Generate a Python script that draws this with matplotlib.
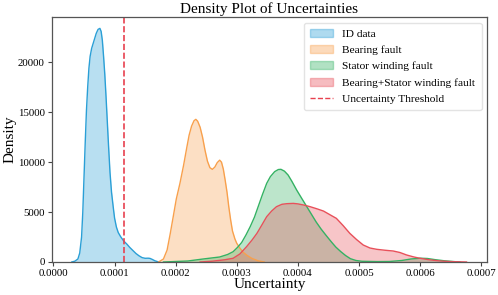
import matplotlib
matplotlib.use("Agg")
import matplotlib.pyplot as plt
from matplotlib.patches import Patch
from matplotlib.lines import Line2D

plt.rcParams['font.family'] = ['Liberation Serif', 'DejaVu Serif']

# curves: x in units of 1e-5, y = density
id_x = [3.0, 3.5, 4.0, 4.3, 4.6, 4.8, 5.0, 5.2, 5.4, 5.6, 5.8, 6.0, 6.25, 6.5, 6.75,
        7.0, 7.3, 7.6, 7.8, 8.0, 8.2, 8.4, 8.6, 8.8, 9.0, 9.25, 9.5, 9.8, 10.0, 10.3,
        10.6, 11.0, 11.5, 12.0, 12.5, 13.0, 13.5, 14.0, 14.5, 15.0, 15.5, 15.8, 16.2,
        16.6, 17.0, 17.4]
id_y = [0, 80, 300, 900, 2500, 5000, 8500, 12000, 15200, 17500, 19400, 20600, 21400,
        21900, 22400, 22900, 23300, 23400, 23100, 22200, 20600, 18800, 16600, 14200,
        11800, 9000, 7000, 5400, 4400, 3500, 2950, 2530, 2100, 1800, 1450, 1150, 850,
        620, 440, 370, 380, 360, 250, 120, 40, 0]

bf_x = [17.2, 18.0, 18.6, 19.1, 19.6, 20.1, 20.7, 21.3, 21.8, 22.2, 22.6, 23.0, 23.3,
        23.6, 24.0, 24.4, 24.8, 25.2, 25.6, 26.0, 26.4, 26.8, 27.2, 27.5, 27.8, 28.1,
        28.4, 28.7, 29.0, 29.3, 29.7, 30.0, 30.5, 31.0, 31.7, 32.5, 33.5, 34.5]
bf_y = [0, 300, 1200, 2800, 4540, 6300, 7880, 9700, 11400, 12700, 13600, 14150, 14290,
        14100, 13500, 12500, 11200, 10100, 9450, 9280, 9500, 9950, 10200, 10000, 9300,
        8200, 7000, 5500, 4200, 3100, 2300, 1870, 1400, 1000, 650, 350, 120, 0]

sw_x = [18.0, 22.0, 24.5, 27.2, 28.5, 29.4, 30.1, 30.8, 31.5, 32.2, 32.9, 33.5, 34.2,
        34.9, 35.5, 36.2, 36.8, 37.23, 37.8, 38.4, 39.0, 39.8, 40.6, 41.4, 42.2, 43.0,
        43.8, 44.7, 45.5, 46.2, 47.0, 47.8, 48.6, 49.5, 50.5, 53.0, 55.0, 57.0, 58.5,
        60.0, 61.2, 62.5, 64.0, 65.5, 66.5]
sw_y = [0, 100, 300, 500, 750, 1030, 1450, 1950, 2700, 3540, 4500, 5540, 6750, 7880,
        8550, 9050, 9260, 9280, 9100, 8710, 8100, 7210, 6400, 5600, 4800, 4000, 3300,
        2600, 2000, 1500, 1050, 650, 330, 150, 70, 40, 50, 150, 300, 380, 350, 230, 120,
        40, 0]

bs_x = [24.0, 26.0, 28.0, 29.4, 30.5, 31.6, 32.5, 33.3, 34.1, 34.9, 35.7, 36.5, 37.4,
        38.2, 39.25, 40.0, 41.0, 42.0, 43.1, 44.2, 45.2, 46.3, 47.4, 48.5, 49.6, 50.7,
        51.8, 52.9, 54.2, 55.6, 56.7, 57.8, 59.0, 60.0, 61.5, 63.3, 65.0, 67.6]
bs_y = [0, 80, 220, 370, 800, 1530, 2200, 2870, 3700, 4540, 5100, 5540, 5780, 5840,
        5870, 5820, 5700, 5540, 5330, 5100, 4750, 4370, 3650, 2870, 2250, 1700, 1400,
        1270, 1180, 1100, 950, 700, 500, 370, 220, 100, 40, 0]

threshold = 11.52

labels = ['ID data', 'Bearing fault', 'Stator winding fault', 'Bearing+Stator winding fault']
colors = ['#2a9fd6', '#f8a04c', '#34b263', '#e8505a']
fill_alpha = 0.33

fig = plt.figure(figsize=(4.98, 2.95), dpi=100)
ax = fig.add_axes([0.1038, 0.1119, 0.8747, 0.8305])

series = [(id_x, id_y), (bf_x, bf_y), (sw_x, sw_y), (bs_x, bs_y)]
for (xs, ys), c in zip(series, colors):
    xs = [v * 1e-5 for v in xs]
    ax.fill_between(xs, ys, 0, color=c, alpha=fill_alpha, linewidth=0)
    ax.plot(xs, ys, color=c, linewidth=1.0)

ax.axvline(threshold * 1e-5, color='#e8414f', linestyle='--', linewidth=1.2)

ax.set_xlim(-0.0000029, 0.000710)
ax.set_ylim(0, 24540)
ax.set_xticks([0.0, 0.0001, 0.0002, 0.0003, 0.0004, 0.0005, 0.0006, 0.0007])
ax.set_xticklabels(['0.0000', '0.0001', '0.0002', '0.0003', '0.0004', '0.0005', '0.0006', '0.0007'])
ax.set_yticks([0, 5000, 10000, 15000, 20000])
ax.tick_params(labelsize=7.8, length=3, width=0.8, color='#444444', pad=2)
for s in ax.spines.values():
    s.set_color('#555555')
    s.set_linewidth(0.9)

ax.set_title('Density Plot of Uncertainties', fontsize=11, pad=3)
ax.set_xlabel('Uncertainty', fontsize=11, labelpad=0)
ax.set_ylabel('Density', fontsize=11, labelpad=1)

handles = [Patch(facecolor=c, alpha=fill_alpha + 0.05, edgecolor=c) for c in colors]
handles.append(Line2D([0], [0], color='#e8414f', linestyle='--', linewidth=1.0))
ax.legend(handles, labels + ['Uncertainty Threshold'], loc='upper right',
          fontsize=8.2, framealpha=0.8, edgecolor='#dddddd', borderpad=0.55,
          handlelength=2.0, labelspacing=0.55)

fig.savefig('out.png', dpi=100)
